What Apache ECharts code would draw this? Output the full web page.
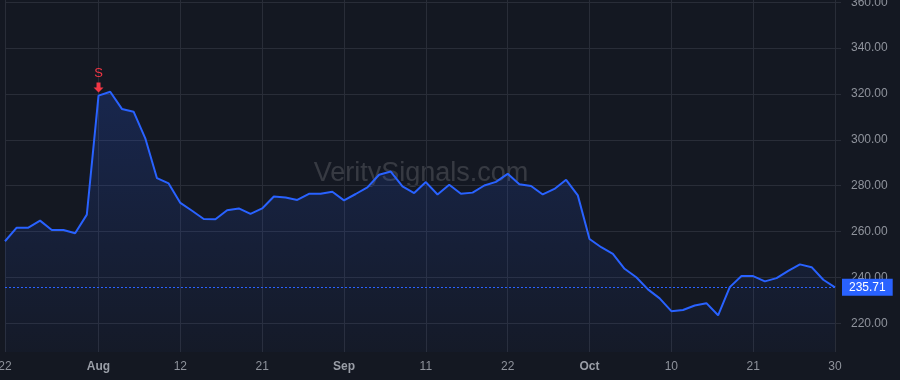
<!DOCTYPE html>
<html>
<head>
<meta charset="utf-8">
<script src="https://cdn.jsdelivr.net/npm/echarts@6/dist/echarts.min.js"></script>
<style>
  html, body { margin: 0; padding: 0; background: #141822; }
  #chart { width: 900px; height: 380px; }
</style>
</head>
<body>
<div id="chart"></div>
<script>
// trading days, Jul 22 - Oct 30 2025
const dates = [
  '2025-07-22', '2025-07-23', '2025-07-24', '2025-07-25', '2025-07-28', '2025-07-29', '2025-07-30', '2025-07-31',
  '2025-08-01', '2025-08-04', '2025-08-05', '2025-08-06', '2025-08-07', '2025-08-08', '2025-08-11', '2025-08-12',
  '2025-08-13', '2025-08-14', '2025-08-15', '2025-08-18', '2025-08-19', '2025-08-20', '2025-08-21', '2025-08-22',
  '2025-08-25', '2025-08-26', '2025-08-27', '2025-08-28', '2025-08-29',
  '2025-09-02', '2025-09-03', '2025-09-04', '2025-09-05', '2025-09-08', '2025-09-09', '2025-09-10', '2025-09-11',
  '2025-09-12', '2025-09-15', '2025-09-16', '2025-09-17', '2025-09-18', '2025-09-19', '2025-09-22', '2025-09-23',
  '2025-09-24', '2025-09-25', '2025-09-26', '2025-09-29', '2025-09-30',
  '2025-10-01', '2025-10-02', '2025-10-03', '2025-10-06', '2025-10-07', '2025-10-08', '2025-10-09', '2025-10-10',
  '2025-10-13', '2025-10-14', '2025-10-15', '2025-10-16', '2025-10-17', '2025-10-20', '2025-10-21', '2025-10-22',
  '2025-10-23', '2025-10-24', '2025-10-27', '2025-10-28', '2025-10-29', '2025-10-30'
]

const prices = [
  255.8, 261.7, 261.7, 264.8, 260.7, 260.7, 259.3, 267.4,
  319.3, 321.0, 313.5, 312.3, 300.7, 283.3, 281.0, 272.5,
  269.1, 265.5, 265.4, 269.3, 270.1, 267.7, 270.1, 275.3,
  274.9, 273.8, 276.5, 276.5, 277.4,
  273.6, 276.4, 279.3, 284.8, 286.2, 279.7, 276.8, 281.6,
  276.2, 280.4, 276.5, 277.0, 280.1, 281.7, 285.2, 280.7,
  279.9, 276.2, 278.6, 282.6, 275.8,
  256.8, 253.2, 250.3, 243.8, 240.1, 234.8, 230.9, 225.3,
  225.8, 227.8, 228.8, 223.5, 235.8, 240.6, 240.6, 238.3,
  239.7, 242.9, 245.7, 244.5, 239.0, 235.71
]

const tickDates = ['2025-07-22', '2025-08-01', '2025-08-12', '2025-08-21', '2025-09-02', '2025-09-11',
  '2025-09-22', '2025-10-01', '2025-10-10', '2025-10-21', '2025-10-30']
const tickTexts = ['22', 'Aug', '12', '21', 'Sep', '11', '22', 'Oct', '10', '21', '30']
const monthTicks = ['Aug', 'Sep', 'Oct']

const signalDates = ['2025-08-01']
const signalTexts = ['S']

const lastPrice = prices[prices.length - 1]

const fontFamily = "'Liberation Sans', Arial, sans-serif"
const gridColor = '#292d38'
const textColor = '#8f939c'
const lineColor = '#2962ff'

const chart = echarts.init(document.getElementById('chart'))

const isTick = (idx) => tickDates.includes(dates[idx])

const option = {
  backgroundColor: '#141822',
  animation: false,
  graphic: [
    {
      type: 'text',
      z: 0,
      silent: true,
      style: {
        text: 'VeritySignals.com',
        x: 421,
        y: 174,
        align: 'center',
        verticalAlign: 'middle',
        fontSize: 27,
        fontFamily: fontFamily,
        fill: 'rgba(255, 255, 255, 0.15)'
      }
    }
  ],
  grid: {
    left: 5,
    right: 65,
    top: 0,
    bottom: 28,
    outerBoundsMode: 'none'
  },
  xAxis: {
    type: 'category',
    data: dates,
    boundaryGap: false,
    axisLine: { show: false },
    axisTick: { show: false },
    axisLabel: {
      interval: (idx) => isTick(idx),
      margin: 9,
      color: textColor,
      fontSize: 12,
      fontFamily: fontFamily,
      formatter: (val) => {
        const t = tickTexts[tickDates.indexOf(val)]
        if (t === undefined) return ''
        return monthTicks.includes(t) ? '{m|' + t + '}' : t
      },
      rich: {
        m: {
          fontWeight: 'bold',
          fontSize: 12,
          fontFamily: fontFamily,
          color: '#9a9ea7'
        }
      }
    },
    splitLine: {
      show: true,
      interval: (idx) => isTick(idx),
      lineStyle: { color: gridColor, width: 1 }
    }
  },
  yAxis: {
    type: 'value',
    position: 'right',
    min: 207.5,
    max: 361,
    splitNumber: 7,
    minInterval: 20,
    maxInterval: 20,
    axisLine: { show: false },
    axisTick: {
      show: true,
      length: 6,
      lineStyle: { color: gridColor }
    },
    axisLabel: {
      margin: 16,
      color: textColor,
      fontSize: 12,
      fontFamily: fontFamily,
      showMinLabel: false,
      showMaxLabel: false,
      formatter: (v) => v.toFixed(2)
    },
    splitLine: {
      show: true,
      showMinLine: false,
      showMaxLine: false,
      lineStyle: { color: gridColor, width: 1 }
    }
  },
  series: [
    {
      type: 'line',
      data: prices,
      symbol: 'none',
      lineStyle: { color: lineColor, width: 2 },
      itemStyle: { color: lineColor },
      areaStyle: {
        origin: 'start',
        color: new echarts.graphic.LinearGradient(0, 0, 0, 1, [
          { offset: 0, color: 'rgba(41, 98, 255, 0.28)' },
          { offset: 1, color: 'rgba(41, 98, 255, 0.04)' }
        ])
      },
      markLine: {
        silent: true,
        symbol: 'none',
        lineStyle: { color: lineColor, type: [2, 2], width: 1 },
        label: {
          position: 'end',
          distance: 7,
          formatter: () => lastPrice.toFixed(2),
          color: '#ffffff',
          fontSize: 12,
          fontFamily: fontFamily,
          backgroundColor: lineColor,
          padding: [2, 7, 2, 7],
          lineHeight: 13
        },
        data: [{ yAxis: lastPrice }]
      },
      markPoint: {
        silent: true,
        symbol: 'path://M3,0L7,0L7,5L10,5L5,10L0,5L3,5Z',
        symbolSize: [10, 10],
        symbolKeepAspect: false,
        symbolOffset: [0, -8],
        itemStyle: { color: '#f23645' },
        label: {
          show: true,
          position: 'top',
          distance: 3,
          color: '#f23645',
          fontSize: 13,
          fontFamily: fontFamily
        },
        data: signalDates.map((d, i) => ({
          coord: [d, prices[dates.indexOf(d)]],
          value: signalTexts[i],
          label: { formatter: signalTexts[i] }
        }))
      }
    }
  ]
}

chart.setOption(option)
</script>
</body>
</html>
